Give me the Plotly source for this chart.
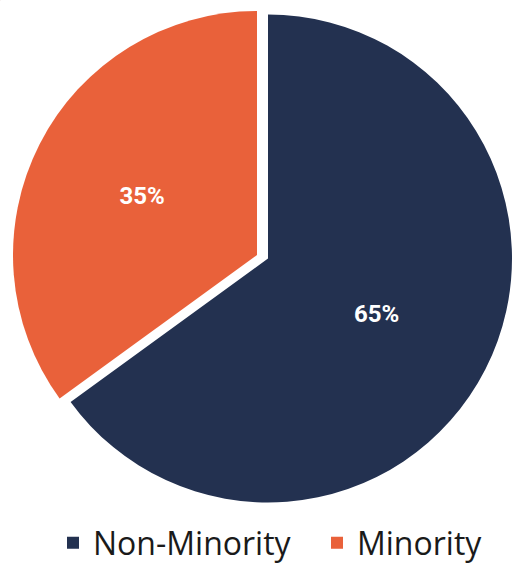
import plotly.graph_objects as go

labels = ["Non-Minority", "Minority"]
values = [65, 35]
colors = ["#233150", "#E9613A"]

W, H = 514, 564

def dom(cx, cy, r):
    return dict(x=[(cx - r) / W, (cx + r) / W], y=[(H - cy - r) / H, (H - cy + r) / H])

fig = go.Figure()

# Non-Minority slice (main pie)
fig.add_trace(go.Pie(
    labels=labels, values=values, sort=False, direction="clockwise", rotation=0,
    marker=dict(colors=[colors[0], "rgba(0,0,0,0)"], line=dict(width=0)),
    texttemplate=["%{percent:.0%}", ""], textposition=["inside", "none"],
    insidetextorientation="horizontal",
    textfont=dict(color="white", size=24, family="Roboto", weight="bold"),
    domain=dom(268, 258.5, 244), showlegend=False, hoverinfo="skip",
))
# Minority slice (offset / exploded)
fig.add_trace(go.Pie(
    labels=labels, values=values, sort=False, direction="clockwise", rotation=0,
    marker=dict(colors=["rgba(0,0,0,0)", colors[1]], line=dict(width=0)),
    texttemplate=["", "%{percent:.0%}"], textposition=["none", "inside"],
    insidetextorientation="horizontal",
    textfont=dict(color="white", size=24, family="Roboto", weight="bold"),
    domain=dom(257, 255, 244), showlegend=False, hoverinfo="skip",
))
# Legend carriers (negligible size), one legend per entry
for i, lg in enumerate(["legend", "legend2"]):
    fig.add_trace(go.Pie(
        labels=[labels[i]], values=[values[i]], sort=False,
        marker=dict(colors=[colors[i]], line=dict(width=0)),
        textinfo="none", domain=dict(x=[0, 0.0005], y=[0.9995, 1]),
        showlegend=True, hoverinfo="skip", legend=lg,
    ))

leg_common = dict(orientation="h", yanchor="middle", y=(H - 543) / H, xanchor="left",
                  font=dict(family="Open Sans", size=32, color="#1a1a1a"),
                  bgcolor="rgba(0,0,0,0)", itemclick=False, itemdoubleclick=False)

fig.update_layout(
    width=W, height=H,
    margin=dict(l=0, r=0, t=0, b=0, autoexpand=False),
    paper_bgcolor="white", plot_bgcolor="white",
    legend=dict(x=53 / W, **leg_common),
    legend2=dict(x=317 / W, **leg_common),
)

fig.write_html("out.html")
